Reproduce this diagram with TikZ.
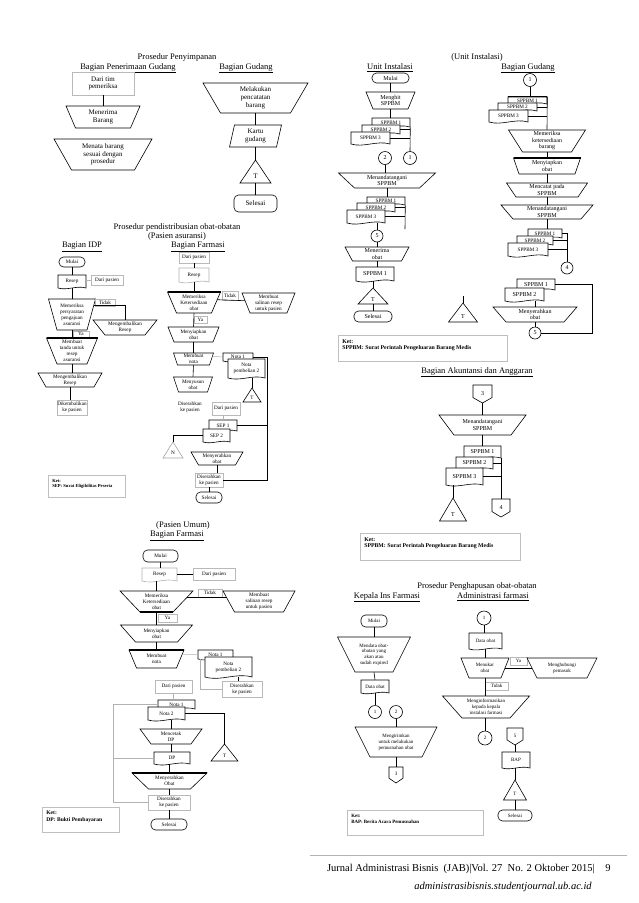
\documentclass[tikz,border=0pt]{standalone}
\usepackage{fontspec}
\setmainfont{Liberation Serif}
\usetikzlibrary{calc}
\newcommand\fsz[2]{\fontsize{#1}{#2}\selectfont}
\newcommand\stk{\fsz{5.2}{6}}
% trapezoid (manual operation): opt, name, cx, ytop, ybot, wtop, wbot, text
\newcommand\trapz[8][]{%
  \draw[fill=white,#1] ({#3-#6/2},#4) -- ({#3+#6/2},#4) -- ({#3+#7/2},#5) -- ({#3-#7/2},#5) -- cycle;
  \node[lbl,minimum width={#6pt},minimum height={#5pt-#4pt}] (#2) at (#3,{(#4+#5)/2}) {#8};}
% document: opt, name, x1, y1, x2, y2, text
\newcommand\docz[7][]{%
  \draw[fill=white,#1] (#3,#4) -- (#5,#4) -- (#5,#6) .. controls ({#5-(#5-#3)/3},{#6-(#5-#3)/10}) and ({#3+(#5-#3)/3},{#6+(#5-#3)/10}) .. (#3,#6) -- cycle;
  \node[lbl,minimum width={#5pt-#3pt},minimum height={#6pt-#4pt}] (#2) at ({(#3+#5)/2},{(#4+#6)/2}) {#7};}
% terminal
\newcommand\termz[7][]{%
  \node[lbl,draw,fill=white,rounded corners=4.5pt,minimum width={#5pt-#3pt},minimum height={#6pt-#4pt},#1] (#2) at ({(#3+#5)/2},{(#4+#6)/2}) {#7};}
% light box
\newcommand\boxz[7][]{%
  \node[lbl,draw=gray!55,fill=white,minimum width={#5pt-#3pt},minimum height={#6pt-#4pt},#1] (#2) at ({(#3+#5)/2},{(#4+#6)/2}) {#7};}
% circle connector
\newcommand\circz[5]{%
  \node[lbl,draw,fill=white,circle,minimum size={2*#4pt}] (#1) at (#2,#3) {#5};}
% off-page connector: name, x1, y1, x2, y2, text
\newcommand\offz[6]{%
  \draw[fill=white] (#2,#3) -- (#4,#3) -- (#4,{#3+0.7*(#5-#3)}) -- ({(#2+#4)/2},#5) -- (#2,{#3+0.7*(#5-#3)}) -- cycle;
  \node[lbl,minimum width={#4pt-#2pt},minimum height={#5pt-#3pt}] (#1) at ({(#2+#4)/2},{(#3+#5)/2}) {\raisebox{1.5pt}{#6}};}
% triangle: opt, name, x, yapex, ybase, w, text
\newcommand\triz[7][]{%
  \draw[fill=white,#1] (#3,#4) -- ({#3+#6/2},#5) -- ({#3-#6/2},#5) -- cycle;
  \node[lbl,minimum width={#6pt},minimum height={#5pt-#4pt}] (#2) at (#3,{(#4+#5)/2}) {};
  \node[lbl] (#2-t) at (#3,{#5-0.3*(#5-#4)}) {#7};}
% parallelogram: name, x1, y1, x2, y2, skew, text
\newcommand\parz[7]{%
  \draw[fill=white] ({#2+#6},#3) -- (#4,#3) -- ({#4-#6},#5) -- (#2,#5) -- cycle;
  \node[lbl,minimum width={#4pt-#2pt},minimum height={#5pt-#3pt}] (#1) at ({(#2+#4)/2},{(#3+#5)/2}) {#7};}
% Ket box: name, x1, y1, x2, y2, text, font
\newcommand\ketz[7]{%
  \node[draw=gray!50,inner sep=0pt,minimum width={#4pt-#2pt},minimum height={#5pt-#3pt}] (#1) at ({(#2+#4)/2},{(#3+#5)/2}) {};
  \node[anchor=north west,inner sep=0pt,align=left,font={\bfseries#7}] (#1-t) at ({#2+4},{#3+4}) {#6};}
\tikzset{
  lbl/.style={inner sep=0pt,align=center},
  ttl/.style={inner sep=0pt,font=\fsz{8.5}{10}},
  hdr/.style={inner sep=0pt,font=\fsz{8.5}{10}},
  gln/.style={draw=gray!60,line width=0.5pt},
  thk/.style={line width=1.3pt},
}
\begin{document}
\begin{tikzpicture}[x=1pt,y=-1pt,line width=0.6pt]
\fill[white] (0,0) rectangle (638,903);
\useasboundingbox (0,0) rectangle (638,903);

% ================= Prosedur Penyimpanan
\begin{scope}[font=\fsz{7}{7.8}]
\node[ttl] (s1t) at (177,57) {Prosedur Penyimpanan};
\node[hdr] (s1h1) at (128,68) {\underline{Bagian Penerimaan Gudang}};
\node[hdr] (s1h2) at (246,68) {\underline{Bagian Gudang}};
\boxz{s1dt}{72}{72}{134}{95}{Dari tim\\pemeriksa}
\trapz{s1mb}{103}{106}{128}{74}{55}{Menerima\\Barang}
\trapz{s1mbs}{103}{139}{170}{98}{63}{Menata barang\\sesuai dengan\\prosedur}
\draw (s1dt.south) -- (s1dt.south |- s1mb.north);
\trapz{s1mp}{255.5}{83}{113}{105}{70}{Melakukan\\pencatatan\\barang}
\parz{s1kg}{229.5}{125}{281.5}{147}{5}{Kartu\\gudang}
\triz{s1T}{255.5}{160}{183}{31}{T}
\termz{s1sel}{234}{195}{277}{212}{Selesai}
\draw (s1mp.south) -- (s1kg.north);
\draw (s1kg.south) -- (s1T.north);
\draw (s1T.south) -- (s1sel.north);
\end{scope}

% ================= Unit Instalasi / Bagian Gudang
\begin{scope}[font=\fsz{6}{6.5}]
\node[ttl] (s2t) at (477,57) {(Unit Instalasi)};
\node[hdr] (s2h1) at (390,68) {\underline{Unit Instalasi}};
\node[hdr] (s2h2) at (528,68) {\underline{Bagian Gudang}};
\termz{uim}{372}{73}{409}{83}{Mulai}
\trapz{uimh}{390.5}{92}{109}{49}{35}{Menghit\\SPPBM}
\draw (uim.south) -- (uimh.north);
\docz{uis1}{372}{118}{410}{127}{\stk SPPBM 1}
\docz{uis2}{362}{125}{400}{134}{\stk SPPBM 2}
\docz{uis3}{351}{132}{390}{144}{\stk SPPBM 3}
\draw (uimh.south) -- (uimh.south |- uis1.north);
\circz{uic2}{385}{158}{6.5}{2}
\circz{uic1}{410}{158}{6.5}{1}
\draw (uis1.south east) -- (uic1.north);
\draw (uis2.east) -- (uis2.east -| uic1.north);
\draw (uis3.east) -- (uis3.east -| uic1.north);
\trapz{uimt}{387}{173}{188}{97}{65}{Menandatangani\\SPPBM}
\draw (uic2.south) -- (uic2.south |- uimt.north);
\docz{uiu1}{367}{197}{405}{205}{\stk SPPBM 1}
\docz{uiu2}{357}{203}{395}{212}{\stk SPPBM 2}
\docz{uiu3}{347}{210}{385}{223}{\stk SPPBM 3}
\draw (uimt.south) -- (uimt.south |- uiu1.north);
\coordinate (uiend) at (405,229);
\draw (uiu1.south east) -- (uiend);
\draw (uiu2.east) -- (uiu2.east -| uiend);
\draw (uiu3.east) -- (uiu3.east -| uiend);
\circz{uic5}{377}{236}{6}{5}
\draw (uic5.north |- uiu3.south) -- (uic5.north);
\trapz{uimo}{377}{247}{261}{64}{49}{Menerima\\obat}
\draw (uic5.south) -- (uimo.north);
\docz{uid}{356}{267}{394}{281}{SPPBM 1}
\draw (uimo.south) -- (uimo.south |- uid.north);
\triz{uiT}{373}{288}{304}{30}{T}
\draw (uiT.north |- uid.south) -- (uiT.north);
\termz{uisel}{354}{311}{392}{322}{Selesai}
\draw (uiT.south) -- (uiT.south |- uisel.north);
\ketz{uiket}{338}{335}{507}{361}{Ket:\\SPPBM: Surat Perintah Pengeluaran Barang Medis}{\fsz{5.8}{6.8}}
% Bagian Gudang
\circz{gdc1}{530}{80}{6.5}{1}
\docz{gds1}{508}{97}{547}{104}{\stk SPPBM 1}
\draw[thk] (gds1.north west) -- (gds1.north east);
\docz{gds2}{498}{103}{537}{111}{\stk SPPBM 2}
\docz{gds3}{489}{110}{528}{122}{\stk SPPBM 3}
\draw (gdc1.south) -- (gdc1.south |- gds1.north);
\trapz{gdmk}{547}{130}{152}{77}{49}{Memeriksa\\ketersediaan\\barang}
\draw (gds1.north east) -- (gdmk.north);
\draw (gds2.east) -- (gds2.east -| gdmk.north);
\draw (gds3.east) -- (gds3.east -| gdmk.north);
\trapz{gdms}{547}{158}{174}{67}{56}{Menyiapkan\\obat}
\draw[thk] (513.5,158) -- (580.5,158);
\trapz{gdmc}{547}{183}{197}{81}{62}{Mencatat pada\\SPPBM}
\trapz{gdmt}{547}{205}{219}{92}{68}{Menandatangani\\SPPBM}
\draw (gdmk.south) -- (gdms.north);
\draw (gdms.south) -- (gdmc.north);
\draw (gdmc.south) -- (gdmt.north);
\docz{gdu1}{528}{229}{562}{238}{\stk SPPBM 1}
\docz{gdu2}{517}{236}{553}{245}{\stk SPPBM 2}
\docz{gdu3}{508}{243}{548}{256}{\stk SPPBM 3}
\draw (gdmt.south) -- (gdmt.south |- gdu1.north);
\circz{gdc4}{567}{268}{6}{4}
\draw (gdu1.east) -| (gdc4.north);
\draw (gdu2.east) -- (gdu2.east -| gdc4.north);
\draw (gdu3.east) -- (gdu3.east -| gdc4.north);
\docz{gdv1}{517}{279}{555}{290}{SPPBM 1}
\docz{gdv2}{505}{288}{544}{301}{SPPBM 2}
\trapz{gdmy}{535}{307}{322}{84}{58}{Menyerahkan\\obat}
\draw (gdmy.north |- gdv2.south) -- (gdmy.north);
\circz{gdc5}{535}{333}{6}{5}
\draw (gdmy.south) -- (gdc5.north);
\draw (gdv1.east) -- ++(37,0) |- (gdc5.east);
\triz{gdT}{463}{303}{322}{29}{T}
\coordinate (gdTend) at (463,296);
\draw (gdT.north) -- (gdTend);
\end{scope}

% ================= Akuntansi
\begin{scope}[font=\fsz{6}{7}]
\node[hdr] (akh) at (477,372) {\underline{Bagian Akuntansi dan Anggaran}};
\offz{ak3}{473}{385}{492}{403}{3}
\trapz{akmt}{482.5}{415}{435}{87}{57}{Menandatangani\\SPPBM}
\draw (ak3.south) -- (ak3.south |- akmt.north);
\docz{aks1}{464}{446}{501}{458}{SPPBM 1}
\docz{aks2}{456}{457}{493}{469}{SPPBM 2}
\docz{aks3}{446}{468}{483}{485}{SPPBM 3}
\draw (akmt.south) -- (akmt.south |- aks1.north);
\offz{ak4}{492}{499}{510}{517}{4}
\draw (aks1.south east) -- (aks1.south east |- ak4.north);
\draw (aks2.east) -- (aks2.east -| aks1.east);
\draw (aks3.east) -- (aks3.east -| aks1.east);
\triz{akT}{453}{498}{521}{27}{T}
\draw (akT.north |- aks3.south) -- (akT.north);
\ketz{akket}{360}{533}{520}{560}{Ket:\\SPPBM: Surat Perintah Pengeluaran Barang Medis}{\fsz{5.8}{6.8}}
\end{scope}

% ================= Pendistribusian (Pasien asuransi)
\begin{scope}[font=\fsz{5.2}{6}]
\node[ttl] (s4t1) at (177,227) {Prosedur pendistribusian obat-obatan};
\node[ttl] (s4t2) at (177,236) {(Pasien asuransi)};
\node[hdr] (s4h1) at (82,247) {\underline{Bagian IDP}};
\node[hdr] (s4h2) at (198,247) {\underline{Bagian Farmasi}};
\termz{idm}{59}{257}{85}{267}{Mulai}
\docz{idr}{58}{275}{86}{288}{Resep}
\boxz{iddp}{91}{275}{123}{285}{Dari pasien}
\draw[gln] (iddp.west -| idr.east) -- (iddp.west);
\draw (idm.south) -- (idm.south |- idr.north);
\trapz{idmp}{72}{299}{330}{47}{30}{Memeriksa\\persyaratan\\pengajuan\\asuransi}
\draw (idmp.north |- idr.south) -- (idmp.north);
\boxz{idtdk}{95}{299}{115}{306}{Tidak}
\trapz{idmr}{125}{320}{335}{64}{40}{Mengembalikan\\Resep}
\draw ([xshift=-2pt,yshift=-7pt]idmp.north east) -| (idmr.north);
\boxz{idya}{73}{331}{89}{337}{Ya}
\trapz{idmt}{72}{338}{364}{51}{30}{Membuat\\tanda untuk\\resep\\asuransi}
\draw[thk] (46.5,338) -- (97.5,338);
\draw (idmp.south) -- (idmt.north);
\trapz{idmg}{70}{373}{387}{64}{48}{Mengembalikan\\Resep}
\draw (idmt.south) -- (idmt.south |- idmg.north);
\boxz{iddk}{57}{400}{87}{415}{Dikembalikan\\ke pasien}
\draw (idmg.south) -- (idmg.south |- iddk.north);
\ketz{idket}{48}{475}{125}{497}{Ket:\\SEP: Surat Eligibilitas Peserta}{\fsz{4.6}{5.6}}
% Farmasi
\boxz{fadp}{179}{252}{209}{263}{Dari pasien}
\docz[draw=gray!60]{far}{179}{268}{209}{282}{Resep}
\draw (fadp.south) -- (far.north);
\trapz{famk}{194}{292}{313}{53}{35}{Memeriksa\\Ketersediaan\\obat}
\draw[thk] (167.5,292) -- (220.5,292);
\draw (famk.north |- far.south) -- (famk.north);
\boxz{fatdk}{222}{291}{238}{300}{Tidak}
\trapz{fams}{268.5}{293}{313}{53}{37}{Membuat\\salinan resep\\untuk pasien}
\draw ([xshift=-3.5pt,yshift=-8pt]famk.north east) -- ([xshift=3.2pt,yshift=-8pt]fams.north west);
\boxz{faya}{194}{316}{207}{323}{Ya}
\trapz{famy}{193.5}{327}{342}{51}{39}{Menyiapkan\\obat}
\draw (famk.south) -- (famy.north);
\trapz{famn}{193.5}{353}{365}{40}{32}{Membuat\\nota}
\draw (famy.south) -- (famn.north);
\docz{fan1}{223}{353}{253}{361}{Nota 1}
\docz{fan2}{228}{359}{265}{378}{Nota\\pembelian 2}
\draw[gln] ([xshift=-1.5pt,yshift=-3.5pt]famn.north east) -- (fan1.west);
\coordinate (favx) at (267,357);
\trapz{famu}{193}{377}{392}{39}{29}{Menyusun\\obat}
\draw (famn.south) -- (famu.north);
\triz{faT}{252}{388}{402}{18}{T}
\draw (faT.north |- fan2.south) -- (faT.north);
\node[lbl] (fadt) at (190,407) {Diserahkan\\ke pasien};
\boxz{fadp2}{212}{402}{240}{415}{Dari pasien}
\docz{fas1}{209}{420}{237}{431}{SEP 1}
\docz{fas2}{203}{429}{230}{442}{SEP 2}
\draw[gln] (fadp2.south -| fas1.north) -- (fas1.north);
\triz[draw=gray!70]{faN}{173}{442}{458}{20}{N}
\draw (fas2.west) -| (faN.north);
\trapz{fame}{217}{452}{465}{52}{37}{Menyerahkan\\obat}
\boxz{fadk}{195}{473}{223}{487}{Diserahkan\\ke pasien}
\draw (fame.south) -- (fame.south |- fadk.north);
\termz{fasel}{196}{492}{222}{503}{Selesai}
\draw (fadk.south) -- (fasel.north);
\draw (fan1.east) -- (favx) |- (fadk.east);
\draw (fas1.east) -- (fas1.east -| favx);
\end{scope}

% ================= Pasien Umum
\begin{scope}[font=\fsz{5.2}{6}]
\node[ttl] (s5t) at (183,525) {(Pasien Umum)};
\node[hdr] (s5h) at (177,536) {\underline{Bagian Farmasi}};
\termz{pum}{143}{550}{178}{562}{Mulai}
\docz[draw=gray!60]{pur}{142}{568}{177}{581}{Resep}
\boxz{pudp}{193}{568}{235}{580}{Dari pasien}
\draw (pudp.west -| pur.east) -- (pudp.west);
\draw (pum.south) -- (pum.south |- pur.north);
\trapz{pumk}{156.5}{591}{612}{73}{33}{Memeriksa\\Ketersediaan\\obat}
\draw[thk] (140,612) -- (173,612);
\draw (pumk.north |- pur.south) -- (pumk.north);
\boxz{putdk}{198}{589}{222}{597}{Tidak}
\trapz{pums}{259}{591}{612}{72}{49}{Membuat\\salinan resep\\untuk pasien}
\draw ([xshift=-6.7pt,yshift=-7pt]pumk.north east) -- ([xshift=3.8pt,yshift=-7pt]pums.north west);
\boxz{puya}{158}{614}{177}{622}{Ya}
\trapz{pumy}{156.5}{625}{642}{72}{42}{Menyiapkan\\obat}
\draw (pumk.south) -- (pumy.north);
\trapz{pumn}{156.5}{650}{668}{55}{40}{Membuat\\nota}
\draw[thk] (129,650) -- (184,650);
\draw (pumy.south) -- (pumn.north);
\docz{pun1}{198}{650}{233}{659}{Nota 1}
\docz{pun2}{205}{657}{252}{677}{Nota\\pembelian 2}
\draw[gln] ([xshift=-2pt,yshift=-4.5pt]pumn.north east) -- (pun1.west);
\boxz{pudk}{222}{681}{262}{697}{Diserahkan\\ke pasien}
\draw[gln] ([xshift=3pt]pun1.south west) |- (pudk.west);
\draw ([xshift=-4pt]pudk.north |- pun2.south) -- ([xshift=-4pt]pudk.north);
\boxz{pudp2}{155}{680}{192}{693}{Dari pasien}
\docz{puo1}{158}{700}{195}{709}{Nota 1}
\docz{puo2}{148}{707}{185}{720}{Nota 2}
\draw[gln] (pudp2.south) -- (pudp2.south |- puo1.north);
\trapz{pumc}{171}{729}{744}{62}{40}{Mencetak\\DP}
\draw (pumc.north |- puo2.south) -- (pumc.north);
\triz{puT}{224.5}{744}{761}{27}{T}
\draw (puo2.east) -| (puT.north);
\docz{puD}{154}{752}{190}{764}{DP}
\draw (pumc.south) -- (pumc.south |- puD.north);
\trapz{pume}{169.5}{773}{789}{75}{42}{Menyerahkan\\Obat}
\draw[thk] (132,773) -- (207,773);
\draw (pume.north |- puD.south) -- (pume.north);
\boxz{pudk2}{148}{795}{190}{810}{Diserahkan\\ke pasien}
\draw (pume.south) -- (pume.south |- pudk2.north);
\termz{pusel}{151}{819}{187}{830}{Selesai}
\draw (pudk2.south) -- (pudk2.south |- pusel.north);
\coordinate (puL) at (113,704);
\draw[gln] (puo1.west) -- (puo1.west -| puL) |- (pudk2.west);
\draw[gln] (puD.west) -- (puD.west -| puL);
\ketz{puket}{42}{807}{119}{832}{Ket:\\DP: Bukti Pembayaran}{\fsz{5.6}{6.6}}
\end{scope}

% ================= Penghapusan
\begin{scope}[font=\fsz{5}{5.8}]
\node[ttl] (s6t) at (477,586) {Prosedur Penghapusan obat-obatan};
\node[hdr] (s6h1) at (387,597) {\underline{Kepala Ins Farmasi}};
\node[hdr] (s6h2) at (493,597) {\underline{Administrasi farmasi}};
\termz{phm}{361}{615}{387}{627}{Mulai}
\trapz{phmd}{374}{637}{672}{73}{38}{Mendata obat-\\obatan yang\\akan atau\\sudah expired}
\draw (phm.south) -- (phmd.north);
\docz{phdo}{361}{680}{389}{693}{Data obat}
\draw (phmd.south) -- (phdo.north);
\circz{phc1}{375}{712}{6.5}{1}
\draw (phc1.north |- phdo.south) -- (phc1.north);
\circz{phc2}{396}{712}{6.5}{2}
\trapz{phmi}{396}{727}{757}{82}{52}{Mengirimkan\\untuk melakukan\\pemusnahan obat}
\draw (phc2.south) -- (phmi.north);
\offz{ph3}{389}{767}{403}{783}{3}
\draw (phmi.south) -- (ph3.north);
\ketz{phket}{347}{810}{483}{835}{Ket:\\BAP: Berita Acara Pemusnahan}{\fsz{4.9}{5.9}}
\circz{phr1}{484}{618}{7}{1}
\docz{phrd}{469}{633}{502}{649}{Data obat}
\draw (phr1.south) -- (phr1.south |- phrd.north);
\trapz{phmk}{485}{658}{678}{48}{32}{Menukar\\obat}
\draw (phmk.north |- phrd.south) -- (phmk.north);
\boxz{phya}{510}{657}{527}{665}{Ya}
\trapz{phmh}{562}{658}{678}{70}{50}{Menghubungi\\pemasok}
\draw ([xshift=-4.4pt,yshift=-11pt]phmk.north east) -- ([xshift=5.5pt,yshift=-11pt]phmh.north west);
\boxz{phtdk}{485}{682}{508}{690}{Tidak}
\trapz{phmf}{486}{696}{718}{87}{48}{Menginformasikan\\kepada kepala\\instalasi farmasi}
\draw (phmk.south) -- (phmk.south |- phmf.north);
\circz{phr2}{485}{738}{7}{2}
\draw (phr2.north |- phmf.south) -- (phr2.north);
\offz{ph5}{507}{728}{523}{745}{5}
\docz{phbap}{502}{752}{530}{768}{BAP}
\draw (ph5.south) -- (ph5.south |- phbap.north);
\triz{phT}{515}{780}{800}{23}{T}
\draw (phT.north |- phbap.south) -- (phT.north);
\termz{phsel}{498}{810}{532}{821}{Selesai}
\draw (phT.south) -- (phT.south |- phsel.north);
\end{scope}

% ================= Footer
\coordinate (fl1) at (310,855);
\coordinate (fl2) at (627,855);
\draw[gray!60,line width=0.8pt] (fl1) -- (fl2);
\node[anchor=base east,inner sep=0pt,font=\fsz{10.5}{12}] (ft1) at (595,871) {Jurnal Administrasi Bisnis\ \ (JAB)|Vol. 27\ \ No. 2 Oktober 2015|};
\node[anchor=base east,inner sep=0pt,font=\fsz{10.5}{12}] (ft2) at (611,871) {9};
\node[anchor=base east,inner sep=0pt,font=\itshape\fsz{10.5}{12}] (ft3) at (592,889) {administrasibisnis.studentjournal.ub.ac.id};
\end{tikzpicture}
\end{document}
